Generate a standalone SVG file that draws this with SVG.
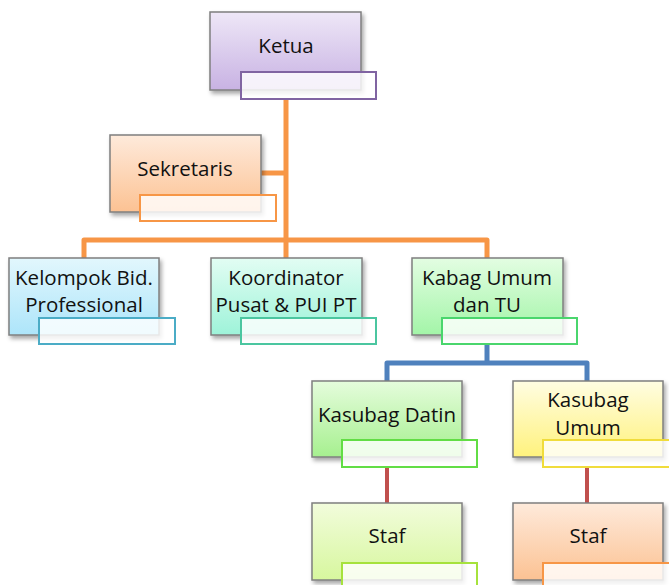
<svg xmlns="http://www.w3.org/2000/svg" width="669" height="585" viewBox="0 0 669 585">
<defs>
<filter id="sh" x="-10%" y="-10%" width="130%" height="130%">
<feDropShadow dx="2" dy="3" stdDeviation="2" flood-color="#000" flood-opacity="0.35"/>
</filter>
<linearGradient id="gPurple" x1="0" y1="0" x2="0" y2="1"><stop offset="0" stop-color="#eee7f7"/><stop offset="1" stop-color="#c8b2e3"/></linearGradient>
<linearGradient id="gOrange" x1="0" y1="0" x2="0" y2="1"><stop offset="0" stop-color="#feeadb"/><stop offset="1" stop-color="#fcc293"/></linearGradient>
<linearGradient id="gCyan" x1="0" y1="0" x2="0" y2="1"><stop offset="0" stop-color="#e2f7fd"/><stop offset="1" stop-color="#ade5fa"/></linearGradient>
<linearGradient id="gTeal" x1="0" y1="0" x2="0" y2="1"><stop offset="0" stop-color="#e2fdf3"/><stop offset="1" stop-color="#9ef3d9"/></linearGradient>
<linearGradient id="gGreen" x1="0" y1="0" x2="0" y2="1"><stop offset="0" stop-color="#e3fde2"/><stop offset="1" stop-color="#a3f5a8"/></linearGradient>
<linearGradient id="gLime" x1="0" y1="0" x2="0" y2="1"><stop offset="0" stop-color="#e5fcdc"/><stop offset="1" stop-color="#a6f08f"/></linearGradient>
<linearGradient id="gYellow" x1="0" y1="0" x2="0" y2="1"><stop offset="0" stop-color="#fffde2"/><stop offset="1" stop-color="#fff27d"/></linearGradient>
<linearGradient id="gYG" x1="0" y1="0" x2="0" y2="1"><stop offset="0" stop-color="#f2fcdc"/><stop offset="1" stop-color="#d7f79e"/></linearGradient>
</defs>
<style>
.box{stroke:#7f7f7f;stroke-width:1.5;filter:url(#sh)}
.tag{fill:#ffffff;fill-opacity:0.82;stroke-width:2}
.t{font-family:"Open Sans","Noto Sans",sans-serif;font-size:20.5px;fill:#111;text-anchor:middle}
.c{fill:none;stroke-linejoin:round;stroke-linecap:butt}
.o{stroke:#f79646;stroke-width:5}
.b{stroke:#4f81bd;stroke-width:5}
.r{stroke:#c0504d;stroke-width:4}
</style>
<g id="connectors">
<path class="c o" d="M286 99 V258"/>
<path class="c o" d="M261 173 H286"/>
<path class="c o" d="M84 258 V240 H487 V258"/>
<path class="c b" d="M487 344 V363"/>
<path class="c b" d="M387 381 V363 H587 V381"/>
<path class="c r" d="M387 467 V503"/>
<path class="c r" d="M587 467 V503"/>
</g>
<g id="ketua">
<rect class="box" x="210" y="12" width="151" height="78" fill="url(#gPurple)"/>
<text class="t" x="286" y="53">Ketua</text>
<rect class="tag" x="241" y="72" width="135" height="27" stroke="#8064a2"/>
</g>
<g id="sekretaris">
<rect class="box" x="110" y="135" width="151" height="77" fill="url(#gOrange)"/>
<text class="t" x="185" y="176">Sekretaris</text>
<rect class="tag" x="140" y="195" width="136" height="26" stroke="#f79646"/>
</g>
<g id="kelompok">
<rect class="box" x="9" y="258" width="150" height="77" fill="url(#gCyan)"/>
<text class="t" x="84" y="285">Kelompok Bid.</text>
<text class="t" x="84" y="312">Professional</text>
<rect class="tag" x="39" y="318" width="136" height="26" stroke="#4bacc6"/>
</g>
<g id="koordinator">
<rect class="box" x="211" y="258" width="151" height="77" fill="url(#gTeal)"/>
<text class="t" x="286" y="285">Koordinator</text>
<text class="t" x="286" y="312">Pusat &amp; PUI PT</text>
<rect class="tag" x="241" y="318" width="135" height="26" stroke="#4bc6a0"/>
</g>
<g id="kabag">
<rect class="box" x="412" y="258" width="151" height="77" fill="url(#gGreen)"/>
<text class="t" x="487" y="285">Kabag Umum</text>
<text class="t" x="487" y="312">dan TU</text>
<rect class="tag" x="442" y="318" width="135" height="26" stroke="#4ad66d"/>
</g>
<g id="kasubag-datin">
<rect class="box" x="312" y="381" width="150" height="76" fill="url(#gLime)"/>
<text class="t" x="387" y="422">Kasubag Datin</text>
<rect class="tag" x="342" y="440" width="135" height="27" stroke="#62dd45"/>
</g>
<g id="kasubag-umum">
<rect class="box" x="513" y="381" width="150" height="76" fill="url(#gYellow)"/>
<text class="t" x="588" y="407">Kasubag</text>
<text class="t" x="588" y="435">Umum</text>
<rect class="tag" x="543" y="440" width="135" height="27" stroke="#f0dc3c"/>
</g>
<g id="staf-datin">
<rect class="box" x="312" y="503" width="150" height="77" fill="url(#gYG)"/>
<text class="t" x="387" y="543">Staf</text>
<rect class="tag" x="342" y="563" width="135" height="27" stroke="#a6e23c"/>
</g>
<g id="staf-umum">
<rect class="box" x="513" y="503" width="150" height="77" fill="url(#gOrange)"/>
<text class="t" x="588" y="543">Staf</text>
<rect class="tag" x="543" y="563" width="135" height="27" stroke="#f79646"/>
</g>
</svg>
